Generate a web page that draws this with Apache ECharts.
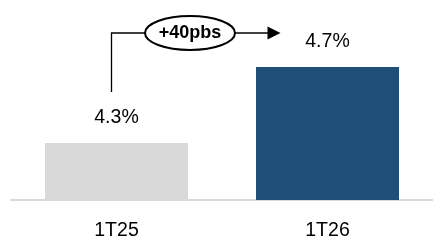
<!DOCTYPE html>
<html><head><meta charset="utf-8">
<script src="https://cdn.jsdelivr.net/npm/echarts@6/dist/echarts.min.js"></script>
<style>html,body{margin:0;padding:0;background:#fff}#c{width:433px;height:241px}</style>
</head><body><div id="c"></div>
<script>
const categories = ['1T25', '1T26'];
const values = [4.3, 4.7];
const barColors = ['#D9D9D9', '#1F4E79'];
const deltaLabel = '+40pbs';

const chart = echarts.init(document.getElementById('c'), null, {renderer: 'canvas'});
const FONT = '"Liberation Sans", Arial, sans-serif';
chart.setOption({
  animation: false,
  grid: {left: 11, right: -4, top: 10, bottom: 40},
  xAxis: {
    type: 'category', data: categories,
    axisLine: {lineStyle: {color: '#D9D9D9', width: 2}},
    axisTick: {show: false},
    axisLabel: {color: '#000', fontFamily: FONT, fontSize: 19.5, margin: 21}
  },
  yAxis: {type: 'value', min: 4.0, max: 5.0, show: false, splitLine: {show: false}},
  series: [{
    type: 'bar', barWidth: 143,
    data: values.map((v, i) => ({value: v, itemStyle: {color: barColors[i]}})),
    label: {show: true, position: 'top', distance: 15, color: '#000', fontFamily: FONT, fontSize: 19.5,
      formatter: p => p.value.toFixed(1) + '%'}
  }]
});

const p1 = chart.convertToPixel({seriesIndex: 0}, [0, values[0]]);
const p2 = chart.convertToPixel({seriesIndex: 0}, [1, values[1]]);
const lx = p1[0] - 5, ly = 33;
const ex = 190, rx = 45, ry = 17;
const tip = p2[0] - 47;
chart.setOption({
  graphic: [
    {type: 'polyline', shape: {points: [[lx, 92], [lx, ly], [ex - rx, ly]]}, style: {stroke: '#000', lineWidth: 1.3, fill: null}},
    {type: 'line', shape: {x1: ex + rx, y1: ly, x2: tip - 12, y2: ly}, style: {stroke: '#000', lineWidth: 1.3}},
    {type: 'polygon', shape: {points: [[tip - 13, ly - 6.5], [tip, ly], [tip - 13, ly + 6.5]]}, style: {fill: '#000'}},
    {type: 'ellipse', shape: {cx: ex, cy: ly, rx: rx, ry: ry}, style: {stroke: '#000', lineWidth: 2, fill: '#fff'}},
    {type: 'text', x: ex, y: ly + 0.5, style: {text: deltaLabel, align: 'center', verticalAlign: 'middle', font: 'bold 18px ' + FONT, fill: '#000'}}
  ]
});
</script></body></html>
